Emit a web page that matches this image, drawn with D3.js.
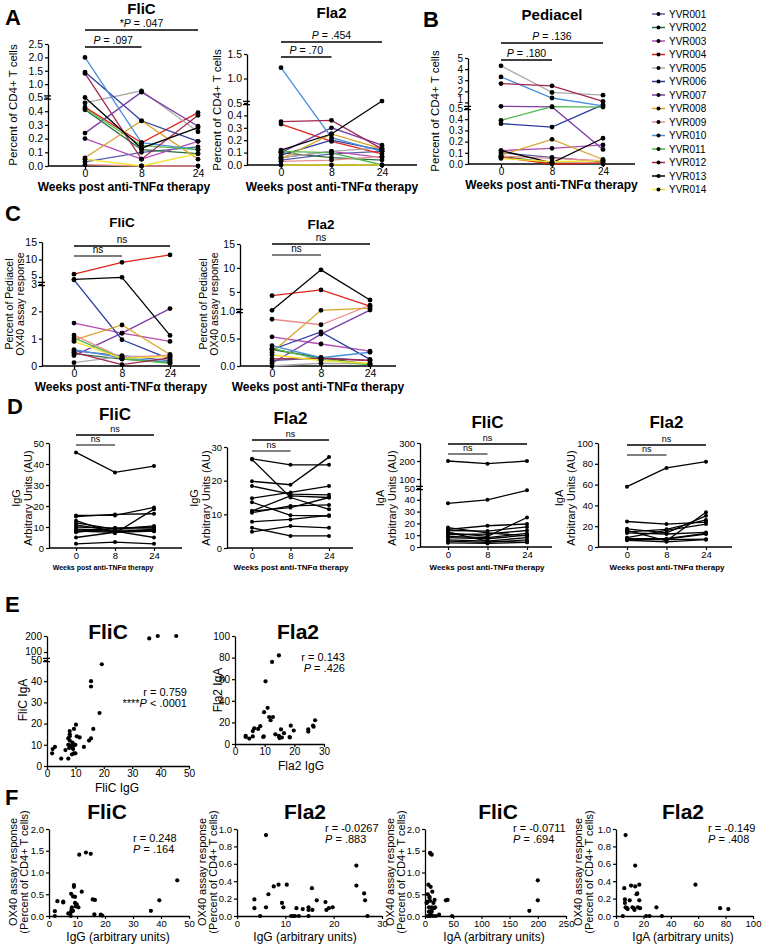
<!DOCTYPE html>
<html><head><meta charset="utf-8">
<script src="https://cdn.jsdelivr.net/npm/d3@7"></script>
<style>body{margin:0;background:#fff}svg{display:block}</style>
</head><body><svg id="c" width="765" height="945"></svg>
<script>
// ---------------- DATA ----------------
const subjects = ["YVR001","YVR002","YVR003","YVR004","YVR005","YVR006","YVR007","YVR008","YVR009","YVR010","YVR011","YVR012","YVR013","YVR014"];
const subjectColors = ["#5a5fa8","#2b6e3f","#b44cb4","#e2231a","#aaaaaa","#2b3c9e","#7b3fa8","#d9a327","#eb8c8c","#4a8fdc","#4fb848","#a3264f","#000000","#f2e32e"];
const weeks = ["0","8","24"];

// A: percent of CD4+ T cells (rows follow subjects; columns follow weeks)
const aFliC = [[0.03,0.10,0.14],[0.41,0.12,0.09],[0.20,0.05,0.18],[0.43,0.17,0.39],[0.46,0.75,0.25],[1.45,0.33,0.18],[0.24,0.70,0.29],[0.06,0.33,0.05],[0.01,0.00,0.00],[2.00,0.17,0.12],[0.42,0.15,0.12],[1.40,0.05,0.37],[0.50,0.13,0.28],[0.05,0.00,0.09]];
const aFla2 = [[0.04,0.09,0.11],[0.10,0.06,0.04],[0.06,0.11,0.06],[0.33,0.19,0.09],[0.06,0.11,0.14],[0.08,0.20,0.12],[0.10,0.30,0.16],[0.05,0.25,0.13],[0.03,0.04,0.07],[1.22,0.22,0.11],[0.11,0.10,0.00],[0.35,0.36,0.13],[0.12,0.25,0.54],[0.00,0.00,0.00]];
// B: Pediacel
const bPediacel = [[0.10,0.06,0.02],[0.07,0.01,0.00],[0.12,0.14,0.17],[0.06,0.00,0.01],[4.3,1.9,1.65],[0.36,0.33,0.8],[0.65,0.6,0.13],[0.08,0.22,0.04],[0.07,0.05,0.03],[3.3,1.4,0.7],[0.39,0.62,0.58],[2.7,2.5,1.1],[0.12,0.01,0.23],[0.05,0.02,0.03]];
// C: percent of Pediacel OX40 response
const cFliC = [[0.55,0.38,0.2],[0.45,0.25,0.12],[1.57,1.2,0.9],[5.8,9.2,11.3],[0.12,0.35,0.35],[4.2,0.96,0.25],[0.38,1.2,2.1],[0.95,1.5,0.42],[1.13,0.3,0.4],[0.6,0.3,0.15],[1.03,0.27,0.1],[0.5,0.05,0.3],[4.3,4.9,1.12],[0.9,0.28,0.35]];
const cFla2 = [[0.1,0.15,0.1],[0.3,0.15,0.03],[0.53,0.4,0.27],[4.2,5.4,2.0],[0.0,0.05,0.04],[0.3,0.62,0.12],[0.05,0.58,1.2],[0.25,1.15,1.6],[0.85,0.75,2.2],[0.37,0.15,0.25],[0.32,0.12,0.02],[0.13,0.14,0.1],[1.15,9.6,3.3],[0.2,0.1,0.05]];
// D: antibody arbitrary units
const dFliCIgG = [[45.5,36,39],[15.5,15.5,19.3],[15,16,16.3],[13,7,18.5],[12,9,10.5],[11,8,5],[10,9.5,9.5],[9,8.5,8.5],[8,7.5,9],[7.5,9.5,10],[8.5,8,8],[5,7.5,8],[2,2.8,2]];
const dFla2IgG = [[26.5,24.7,24.7],[26.3,15,11.5],[19.8,18.8,27],[18.4,16,15.8],[14.8,16.5,18.4],[13.6,9.7,9.5],[11,12,15],[10.5,12.5,12.8],[7.8,8.5,9.7],[6,3.6,3.6],[4.8,6.5,6],[11,15.5,15]];
const dFliCIgA = [[200,185,200],[37,40,48],[16.5,12,9.5],[15,18,19.5],[14,13.5,17],[12,9,25],[10.5,11,14],[9,8,11.5],[8,7,10],[6,5,8],[5,4,6],[3.5,3,4],[12.5,5,4]];
const dFla2IgA = [[58,76,82],[24.5,22,24],[17.5,13.5,30],[16,6,33.5],[14.5,17,26],[13.5,12.5,14],[9,16,22],[8,8,13],[7.5,7.5,12.5],[7,7,7.5],[6.5,5,7]];
// E: IgG vs IgA
const eFliC = [[36,185],[39,200],[45.5,200],[19.3,48],[15.5,40],[15.5,37.5],[18.5,25],[16.3,17.5],[15.5,13],[14.8,12],[13,9],[11.5,13.5],[10.5,14],[10.2,19.5],[9.5,17.5],[8,16.5],[8,15],[8,14],[7.5,13],[8.5,9.5],[9,11],[9,10.5],[9.5,10],[8.5,9],[9.2,8],[9.5,6],[10,6],[8.8,5.5],[7.5,10],[7.8,8.5],[7.5,3.5],[6.5,7.5],[5,3.5],[2.8,9],[2,8],[1.8,6],[9,9],[10,10],[8,12]];
const eFla2 = [[3.6,7.5],[3.6,6.5],[4.8,5],[6,12],[6,7],[6.5,14.5],[7.8,14],[8.5,16.5],[9.5,6.5],[9.7,7],[9.8,29.5],[10.3,58],[11,33.5],[11.5,25],[12,22],[12.5,76],[12.8,25],[13.6,9],[14.8,82],[14.8,7.5],[15,5.5],[15,6.5],[15.5,13.5],[15.8,6],[16.5,10],[18.4,6.5],[18.5,6],[18.8,17],[19.8,12.5],[24.7,13.5],[24.7,11.5],[26.3,17],[26.5,16],[27,22]];
// F: OX40 response vs antibody
const fFliCIgG = [[2.1,0.11],[2.1,0.0],[3.0,0.34],[5.1,0.33],[5.1,0.31],[6.9,0.06],[7.5,0.05],[7.9,0.51],[8.0,0.14],[8.2,0.2],[8.6,0.12],[8.6,0.45],[8.9,0.71],[8.9,0.67],[9.3,0.44],[9.3,0.3],[9.6,0.22],[9.9,0.27],[10.5,0.2],[10.8,1.41],[11.7,0.56],[13.2,1.46],[14.9,1.43],[15.6,0.38],[16.4,0.37],[16.2,0.04],[18.5,0.03],[19,0.01],[36.4,0.12],[39.4,0.36],[45.8,0.82],[8,0.1],[7.8,0.0]];
const fFla2IgG = [[3.6,0.19],[3.6,0.09],[4.8,0],[6,0.93],[6,0.1],[6.5,0.25],[7.6,0.34],[8.6,0.36],[9.3,0.15],[9.6,0.1],[10.3,0.36],[11.2,0],[11.6,0],[12,0],[12.3,0.09],[12.8,0],[13.6,0.08],[14.8,0.1],[14.8,0.07],[14.8,0],[15.5,0.32],[15.6,0.07],[16.5,0.18],[18.3,0.16],[18.5,0.07],[19,0.09],[19.8,0.1],[24.7,0.58],[24.7,0.35],[26.3,0.26],[26.5,0.18],[27,0.0]];
const fFliCIgA = [[3,0.31],[4,0.33],[5,0.5],[6,0.72],[7,0.2],[7,0.1],[8,0.44],[8,0.42],[9,1.45],[10,1.43],[12,1.41],[9,0.35],[10,0.67],[10,0.05],[11,0.12],[12,0.1],[13,0.56],[14,0.0],[15,0.3],[16,0.18],[17,0.37],[18,0.2],[19,0.0],[5,0.0],[6,0.0],[25,0.03],[37,0.36],[40,0.37],[48,0.0],[185,0.12],[200,0.82],[200,0.36],[9,0.0],[12,0.2],[3,0.3]];
const fFla2IgA = [[5,0.0],[6,0.32],[6.5,0.19],[6.5,0.15],[7,0.93],[7,0.1],[8,0.09],[8.5,0.08],[10,0.18],[11,0.35],[12,0.1],[13,0.09],[13.5,0.07],[14,0.58],[14,0.34],[15,0.25],[15.5,0.26],[16,0.1],[17,0.36],[17,0.18],[17.5,0.09],[22,0.0],[24.5,0.0],[29.5,0.1],[33.5,0.0],[58,0.36],[76,0.09],[82,0.08]];

// tick values and labels
const tickAFliC = [0,0.1,0.2,0.3,0.4,0.5,1.0,1.5,2.0,2.5];
const tickAFla2 = [0,0.1,0.2,0.3,0.4,0.5,1.0,1.5];
const tickB = [0,0.1,0.2,0.3,0.4,0.5,1,2,3,4,5];
const tickBLabels = ["0.0","0.1","0.2","0.3","0.4","0.5","1","2","3","4","5"];
const tickCFliC = [0,1,2,3,5,10,15];
const tickCFla2 = [0,0.5,1,5,10,15];
const tickCFla2Labels = ["0.0","0.5","1.0","5","10","15"];
const tickDFliCIgG = [0,10,20,30,40,50];
const tickDFla2IgG = [0,10,20,30];
const tickDFliCIgA = [0,10,20,30,40,50,100,200,300];
const tickDFla2IgA = [0,20,40,60,80,100];
const tickEFliCy = [0,10,20,30,40,50,100,200];
const tickEFliCx = [0,10,20,30,40,50];
const tickEFla2y = [0,20,40,60,80,100];
const tickEFla2x = [0,10,20,30];
const tickFy2 = [0,0.5,1.0,1.5,2.0];
const tickFy1 = [0,0.2,0.4,0.6,0.8,1.0];
const tickFx50 = [0,10,20,30,40,50];
const tickFx30 = [0,10,20,30];
const tickFx250 = [0,50,100,150,200,250];
const tickFx100 = [0,20,40,60,80,100];

// texts
const sigAFliC = ["*P = .047","P = .097"];
const sigAFla2 = ["P = .454","P = .70"];
const sigB = ["P = .136","P = .180"];
const sigNs = ["ns","ns"];
const weeksLabel = "Weeks post anti-TNF\u03b1 therapy";
const statsE = [["r = 0.759","****P < .0001"],["r = 0.143","P = .426"]];
const statsF = [["r = 0.248","P = .164"],["r = -0.0267","P = .883"],["r = -0.0711","P = .694"],["r = -0.149","P = .408"]];

// ---------------- DRAWING ----------------
const FONT = '"Liberation Sans", Arial, Helvetica, sans-serif';
const svg = d3.select("#c").attr("font-family", FONT);

function rich(g, x, y, s, size, anchor, weight) {
  const t = g.append("text").attr("x", x).attr("y", y).attr("font-size", size)
    .attr("text-anchor", anchor || "middle").attr("fill", "#000");
  if (weight) t.attr("font-weight", weight);
  const m = s.match(/^(.*?)(P)( [=<].*)$/);
  if (m) {
    if (m[1]) t.append("tspan").text(m[1]);
    t.append("tspan").attr("font-style", "italic").text("P");
    t.append("tspan").text(m[3]);
  } else t.text(s);
  return t;
}
function plain(g, x, y, s, size, anchor, weight) {
  return g.append("text").attr("x", x).attr("y", y).attr("font-size", size)
    .attr("text-anchor", anchor || "middle").attr("font-weight", weight || null).attr("fill", "#000").text(s);
}
function vlabel(g, x, cy, s, size) {
  g.append("text").attr("transform", `translate(${x},${cy}) rotate(-90)`).attr("dy", "0.35em")
    .attr("text-anchor", "middle").attr("font-size", size).attr("fill", "#000").text(s);
}
function styleAxis(sel, fs) {
  sel.attr("font-family", FONT).attr("font-size", fs);
  sel.select(".domain").attr("stroke", "#000").attr("stroke-width", 1.3);
  sel.selectAll(".tick line").attr("stroke", "#000").attr("stroke-width", 1.2);
  sel.selectAll(".tick text").attr("fill", "#000");
}
// nudge tick labels that sit closer than minGap apart (around scale breaks)
function spreadTicks(sel, minGap) {
  const ts = sel.selectAll(".tick").nodes().map(n => ({n, y: +n.getAttribute("transform").match(/,([-\d.]+)\)/)[1]}))
    .sort((a, b) => b.y - a.y);
  for (let i = 1; i < ts.length; i++) {
    const gap = ts[i - 1].y - ts[i].y;
    if (gap < minGap) d3.select(ts[i].n).select("text").attr("y", -(minGap - gap));
  }
}
function breakMark(g, x, y) {
  [-1.6, 1.6].forEach(d => g.append("line").attr("x1", x - 4).attr("x2", x + 3)
    .attr("y1", y + d).attr("y2", y + d).attr("stroke", "#000").attr("stroke-width", 1.3));
}

function linePanel(o) {
  const g = svg.append("g");
  const x = d3.scalePoint().domain(weeks).range(o.xr);
  const y = d3.scaleLinear().domain(o.yd).range(o.yr);
  const ya = g.append("g").attr("transform", `translate(${o.ax},0)`)
    .call(d3.axisLeft(y).tickValues(o.ticks).tickFormat((d, i) => o.labels ? o.labels[i] : o.fmt(d)).tickSize(3).tickPadding(2).tickSizeOuter(0));
  styleAxis(ya, o.tfs);
  spreadTicks(ya, o.tfs * 0.85);
  if (o.brk !== undefined) breakMark(g, o.ax, y(o.brk));
  g.append("line").attr("x1", o.ax).attr("x2", o.axEnd).attr("y1", o.yr[0]).attr("y2", o.yr[0])
    .attr("stroke", "#000").attr("stroke-width", 1.3);
  const xa = g.append("g").attr("transform", `translate(0,${o.yr[0]})`)
    .call(d3.axisBottom(x).tickSize(3).tickPadding(1));
  xa.select(".domain").remove();
  styleAxis(xa, o.xtfs || o.tfs);
  const line = d3.line().x((d, j) => x(weeks[j])).y(d => y(d));
  o.data.forEach((row, i) => {
    g.append("path").datum(row).attr("d", line).attr("fill", "none")
      .attr("stroke", o.colored ? subjectColors[i] : "#000").attr("stroke-width", o.lw || 1.3);
  });
  o.data.forEach(row => row.forEach((v, j) => {
    g.append("circle").attr("cx", x(weeks[j])).attr("cy", y(v)).attr("r", o.r || 2.4).attr("fill", "#000");
  }));
  o.sig.forEach((s, k) => {
    const yy = o.sigY[k];
    const x2 = x(k === 0 ? "24" : "8");
    g.append("line").attr("x1", x("0")).attr("x2", x2).attr("y1", yy).attr("y2", yy)
      .attr("stroke", (o.sigGray && k === 1) ? "#555" : "#000").attr("stroke-width", 1.3);
    rich(g, (x("0") + x2) / 2, yy - 3, s, o.sfs);
  });
  plain(g, (o.xr[0] + o.xr[1]) / 2, o.titleY, o.title, o.titleSize, "middle", "bold");
  o.ylab.forEach(l => vlabel(g, l[0], o.ylabY, l[1], o.yfs));
  plain(g, o.xlab[0] !== undefined ? o.xlab[0] : (o.ax + o.axEnd) / 2, o.xlab[1], weeksLabel, o.xlab[2], "middle", "bold");
}

function scatterPanel(o) {
  const g = svg.append("g");
  const x = d3.scaleLinear().domain(o.xd).range(o.xr);
  const y = d3.scaleLinear().domain(o.yd).range(o.yr);
  const ya = g.append("g").attr("transform", `translate(${o.xr[0]},0)`)
    .call(d3.axisLeft(y).tickValues(o.yticks).tickFormat(o.yfmt).tickSize(3).tickPadding(2).tickSizeOuter(0));
  styleAxis(ya, o.tfs);
  spreadTicks(ya, o.tfs * 0.85);
  if (o.brk !== undefined) breakMark(g, o.xr[0], y(o.brk));
  const xa = g.append("g").attr("transform", `translate(0,${o.yr[0]})`)
    .call(d3.axisBottom(x).tickValues(o.xticks).tickFormat(d3.format("d")).tickSize(3).tickPadding(1).tickSizeOuter(0));
  styleAxis(xa, o.tfs);
  o.data.forEach(p => g.append("circle").attr("cx", x(p[0])).attr("cy", y(p[1])).attr("r", 2.1).attr("fill", "#000"));
  plain(g, o.title[0], o.title[1], o.title[2], 21, "middle", "bold");
  o.ylab.forEach(l => vlabel(g, l[0], l[1], l[2], o.yfs));
  plain(g, o.xlab[0], o.xlab[1], o.xlab[2], 12, "middle");
  o.stats.forEach((s, k) => rich(g, o.statXY[0], o.statXY[1] + k * o.statDy, s, 11, o.statAnchor));
}

// panel letters
[["A",5,25],["B",423,27],["C",5,221],["D",7,414],["E",5,612],["F",5,805]].forEach(l =>
  plain(svg, l[1], l[2], l[0], 22, "start", "bold"));

const f1 = d3.format(".1f"), fd = d3.format("d");

// A
linePanel({data:aFliC, colored:true, xr:[85,198], ax:48, axEnd:200, yd:[0,0.5,2.5], yr:[166,97.5,44], brk:0.5,
  ticks:tickAFliC, fmt:f1, tfs:10.5, sig:sigAFliC, sigY:[30,47], sfs:10.5, title:"FliC", titleY:14, titleSize:15,
  ylab:[[13,"Percent of CD4+ T cells"]], ylabY:105, yfs:11.5, xlab:[undefined,191,12]});
linePanel({data:aFla2, colored:true, xr:[281,382], ax:247, axEnd:417, yd:[0,0.5,1.5], yr:[165,103,54], brk:0.5,
  ticks:tickAFla2, fmt:f1, tfs:10.5, sig:sigAFla2, sigY:[42,57], sfs:10.5, title:"Fla2", titleY:18, titleSize:15,
  ylab:[[217,"Percent of CD4+ T cells"]], ylabY:110, yfs:11.5, xlab:[undefined,191,12]});
// B
linePanel({data:bPediacel, colored:true, xr:[501,603], ax:468, axEnd:635, yd:[0,0.5,5], yr:[164,108,58], brk:0.5,
  ticks:tickB, labels:tickBLabels, tfs:10, sig:sigB, sigY:[43,60], sfs:10.5, title:"Pediacel", titleY:20, titleSize:15,
  ylab:[[435,"Percent of CD4+ T cells"]], ylabY:111, yfs:11.5, xlab:[undefined,189,12]});
// legend
const lg = svg.append("g");
subjects.forEach((s, i) => {
  const yy = 14 + i * 13.5;
  lg.append("line").attr("x1", 652).attr("x2", 665).attr("y1", yy).attr("y2", yy).attr("stroke", subjectColors[i]).attr("stroke-width", 1.5);
  lg.append("circle").attr("cx", 658.5).attr("cy", yy).attr("r", 2).attr("fill", "#000");
  lg.append("text").attr("x", 669).attr("y", yy).attr("dy", "0.35em").attr("font-size", 10).attr("fill", "#000").text(s);
});
// C
linePanel({data:cFliC, colored:true, xr:[74,170], ax:42, axEnd:200, yd:[0,3,15], yr:[366,284,242], brk:3,
  ticks:tickCFliC, fmt:fd, tfs:10.5, sig:sigNs, sigY:[246,256], sigGray:true, sfs:10, title:"FliC", titleY:227, titleSize:13.5,
  ylab:[[9,"Percent of Pediacel"],[20,"OX40 assay response"]], ylabY:304, yfs:10.5, xlab:[undefined,391,12]});
linePanel({data:cFla2, colored:true, xr:[272,370], ax:240, axEnd:396, yd:[0,1,15], yr:[366,311,244], brk:1,
  ticks:tickCFla2, labels:tickCFla2Labels, tfs:10.5, sig:sigNs, sigY:[244,255], sigGray:true, sfs:10, title:"Fla2", titleY:229, titleSize:13.5,
  ylab:[[203,"Percent of Pediacel"],[214,"OX40 assay response"]], ylabY:304, yfs:10.5, xlab:[undefined,391,12]});
// D
const dCommon = {colored:false, lw:1.3, r:2, tfs:9.5, sfs:9, sigGray:true, yfs:11, titleSize:17, ylabY:498};
linePanel(Object.assign({}, dCommon, {data:dFliCIgG, xr:[76,154], ax:49, axEnd:182, yd:[0,50], yr:[548,443],
  ticks:tickDFliCIgG, fmt:fd, sig:sigNs, sigY:[435,445], title:"FliC", titleY:420,
  ylab:[[16,"IgG"],[28,"Arbitrary Units (AU)"]], xlab:[103,570,7]}));
linePanel(Object.assign({}, dCommon, {data:dFla2IgG, xr:[252,329], ax:227, axEnd:353, yd:[0,30], yr:[548,447],
  ticks:tickDFla2IgG, fmt:fd, sig:sigNs, sigY:[440,451], title:"Fla2", titleY:424,
  ylab:[[194,"IgG"],[206,"Arbitrary Units (AU)"]], xlab:[291,570,8]}));
linePanel(Object.assign({}, dCommon, {data:dFliCIgA, xr:[448,527], ax:420, axEnd:552, yd:[0,50,300], yr:[547,488,443], brk:50,
  ticks:tickDFliCIgA, fmt:fd, sig:sigNs, sigY:[444,454], title:"FliC", titleY:428,
  ylab:[[380,"IgA"],[392,"Arbitrary Units (AU)"]], xlab:[487,570,8]}));
linePanel(Object.assign({}, dCommon, {data:dFla2IgA, xr:[627,706], ax:598, axEnd:732, yd:[0,100], yr:[547,443],
  ticks:tickDFla2IgA, fmt:fd, sig:sigNs, sigY:[445,455], title:"Fla2", titleY:428,
  ylab:[[559,"IgA"],[571,"Arbitrary Units (AU)"]], xlab:[667,570,8]}));
// E
scatterPanel({data:eFliC, xd:[0,50], xr:[47,189], yd:[0,50,200], yr:[766,660,636], brk:50, tfs:10,
  yticks:tickEFliCy, yfmt:fd, xticks:tickEFliCx, title:[108,639,"FliC"], ylab:[[23,700,"FliC IgA"]], yfs:12,
  xlab:[117,792,"FliC IgG"], stats:statsE[0], statXY:[187,696], statDy:11, statAnchor:"end"});
scatterPanel({data:eFla2, xd:[0,30], xr:[235,324], yd:[0,100], yr:[744,636], tfs:10,
  yticks:tickEFla2y, yfmt:fd, xticks:tickEFla2x, title:[298,639,"Fla2"], ylab:[[218,690,"Fla2 IgA"]], yfs:12,
  xlab:[301,770,"Fla2 IgG"], stats:statsE[1], statXY:[345,661], statDy:11, statAnchor:"end"});
// F
const fy = [[13,"OX40 assay response"],[24,"(Percent of CD4+ T cells)"]];
scatterPanel({data:fFliCIgG, xd:[0,50], xr:[49,189], yd:[0,2], yr:[916,829], tfs:9.5,
  yticks:tickFy2, yfmt:f1, xticks:tickFx50, title:[107,819,"FliC"], ylab:fy.map(l=>[l[0],872,l[1]]), yfs:11,
  xlab:[118,941,"IgG (arbitrary units)"], stats:statsF[0], statXY:[133,842], statDy:11, statAnchor:"start"});
scatterPanel({data:fFla2IgG, xd:[0,30], xr:[237,382], yd:[0,1], yr:[916,829], tfs:9.5,
  yticks:tickFy1, yfmt:f1, xticks:tickFx30, title:[305,819,"Fla2"], ylab:fy.map(l=>[l[0]+189,872,l[1]]), yfs:11,
  xlab:[305,941,"IgG (arbitrary units)"], stats:statsF[1], statXY:[325,832], statDy:10.5, statAnchor:"start"});
scatterPanel({data:fFliCIgA, xd:[0,250], xr:[425,566], yd:[0,2], yr:[916,829], tfs:9.5,
  yticks:tickFy2, yfmt:f1, xticks:tickFx250, title:[498,819,"FliC"], ylab:fy.map(l=>[l[0]+377,872,l[1]]), yfs:11,
  xlab:[494,941,"IgA (arbitrary units)"], stats:statsF[2], statXY:[513,832], statDy:10.5, statAnchor:"start"});
scatterPanel({data:fFla2IgA, xd:[0,100], xr:[616,753], yd:[0,1], yr:[916,829], tfs:9.5,
  yticks:tickFy1, yfmt:f1, xticks:tickFx100, title:[683,819,"Fla2"], ylab:fy.map(l=>[l[0]+565,872,l[1]]), yfs:11,
  xlab:[683,941,"IgA (arbitrary units)"], stats:statsF[3], statXY:[708,832], statDy:10.5, statAnchor:"start"});
</script></body></html>
